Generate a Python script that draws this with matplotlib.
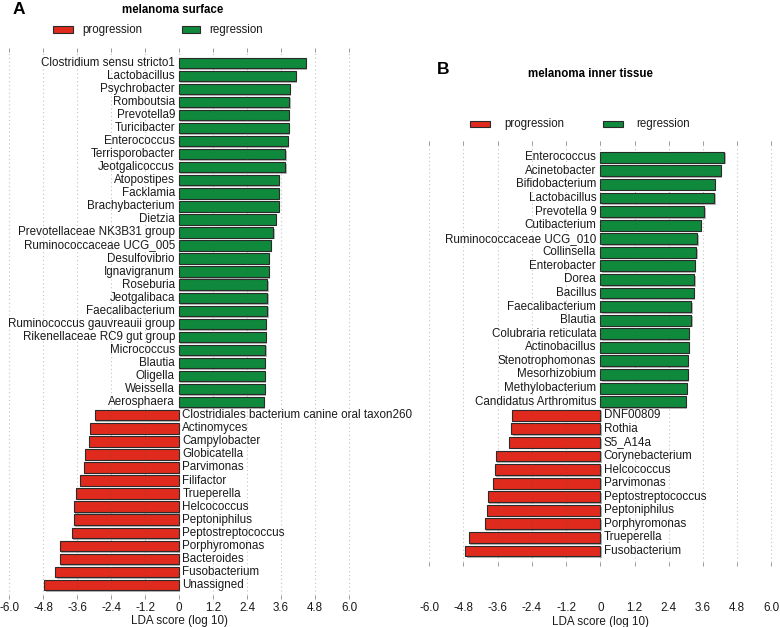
import matplotlib
matplotlib.use("Agg")
import matplotlib.pyplot as plt
import matplotlib.patheffects as pe
from matplotlib.patches import Rectangle
from matplotlib.transforms import ScaledTranslation

plt.rcParams['font.family'] = ['Liberation Sans', 'DejaVu Sans']

# ---------------- data ----------------
a_regression = ["Clostridium sensu stricto1", "Lactobacillus", "Psychrobacter", "Romboutsia",
                "Prevotella9", "Turicibacter", "Enterococcus", "Terrisporobacter", "Jeotgalicoccus",
                "Atopostipes", "Facklamia", "Brachybacterium", "Dietzia", "Prevotellaceae NK3B31 group",
                "Ruminococcaceae UCG_005", "Desulfovibrio", "Ignavigranum", "Roseburia", "Jeotgalibaca",
                "Faecalibacterium", "Ruminococcus gauvreauii group", "Rikenellaceae RC9 gut group",
                "Micrococcus", "Blautia", "Oligella", "Weissella", "Aerosphaera"]
a_regression_lda = [4.47, 4.11, 3.90, 3.89, 3.88, 3.87, 3.83, 3.75, 3.75, 3.51, 3.51, 3.51, 3.42,
                    3.32, 3.24, 3.16, 3.16, 3.12, 3.11, 3.11, 3.07, 3.06, 3.04, 3.03, 3.03, 3.03, 2.99]
a_progression = ["Clostridiales bacterium canine oral taxon260", "Actinomyces", "Campylobacter",
                 "Globicatella", "Parvimonas", "Filifactor", "Trueperella", "Helcococcus",
                 "Peptoniphilus", "Peptostreptococcus", "Porphyromonas", "Bacteroides",
                 "Fusobacterium", "Unassigned"]
a_progression_lda = [-2.98, -3.16, -3.17, -3.31, -3.37, -3.49, -3.64, -3.71, -3.72, -3.79,
                     -4.20, -4.20, -4.37, -4.76]

b_regression = ["Enterococcus", "Acinetobacter", "Bifidobacterium", "Lactobacillus", "Prevotella 9",
                "Cutibacterium", "Ruminococcaceae UCG_010", "Collinsella", "Enterobacter", "Dorea",
                "Bacillus", "Faecalibacterium", "Blautia", "Colubraria reticulata", "Actinobacillus",
                "Stenotrophomonas", "Mesorhizobium", "Methylobacterium", "Candidatus Arthromitus"]
b_regression_lda = [4.35, 4.23, 4.01, 4.00, 3.65, 3.53, 3.40, 3.37, 3.32, 3.30, 3.29, 3.19, 3.19,
                    3.11, 3.11, 3.07, 3.07, 3.04, 3.00]
b_progression = ["DNF00809", "Rothia", "S5_A14a", "Corynebacterium", "Helcococcus", "Parvimonas",
                 "Peptostreptococcus", "Peptoniphilus", "Porphyromonas", "Trueperella", "Fusobacterium"]
b_progression_lda = [-3.10, -3.12, -3.21, -3.67, -3.70, -3.77, -3.94, -3.98, -4.05, -4.61, -4.73]

xticks = [-6.0, -4.8, -3.6, -2.4, -1.2, 0, 1.2, 2.4, 3.6, 4.8, 6.0]
xticklabels = ["-6.0", "-4.8", "-3.6", "-2.4", "-1.2", "0", "1.2", "2.4", "3.6", "4.8", "6.0"]
legend_labels = ["progression", "regression"]

RED = "#e02a1e"
GREEN = "#0f8a3c"
EDGE = "#2a2a2a"
FS = 8.4
TXT = "#1a1a1a"

W, H = 780, 627
fig = plt.figure(figsize=(W / 100, H / 100), dpi=100)


def px_axes(left, top, width, height):
    return fig.add_axes([left / W, 1 - (top + height) / H, width / W, height / H])


def draw_panel(ax, reg_names, reg_vals, prog_names, prog_vals, ylim, extra_pad):
    names = reg_names + prog_names
    vals = reg_vals + prog_vals
    ys = list(range(len(names)))
    colors = [GREEN] * len(reg_vals) + [RED] * len(prog_vals)
    bars = ax.barh(ys, vals, height=0.8, color=colors, edgecolor=EDGE, linewidth=0.8, zorder=2)
    for b in bars:
        b.set_path_effects([pe.SimplePatchShadow(offset=(1.0, -1.2), shadow_rgbFace="#888888", alpha=0.6),
                            pe.Normal()])
    left_off = ax.transData + ScaledTranslation(-3.0 / 72, 0, fig.dpi_scale_trans)
    right_off = ax.transData + ScaledTranslation(2.4 / 72, 0, fig.dpi_scale_trans)
    for y, n, v in zip(ys, names, vals):
        if v >= 0:
            ax.text(0, y, n, ha="right", va="center", fontsize=FS, transform=left_off, color=TXT)
        else:
            ax.text(0, y, n, ha="left", va="center", fontsize=FS, transform=right_off, color=TXT)
    ax.set_xlim(-6.15, 6.15)
    ax.set_ylim(*ylim)
    for s in ax.spines.values():
        s.set_visible(False)
    ax.set_yticks([])
    ax.set_xticks(xticks)
    ax.set_xticklabels(xticklabels, fontsize=FS)
    ax.tick_params(axis="x", top=True, bottom=True, length=3, width=0.7, color="#9a9a9a",
                   pad=1.5 + extra_pad, labelcolor=TXT)
    for t in xticks:
        ax.axvline(t, color="#555555", alpha=0.35, linestyle=(0, (1, 2.5)), linewidth=0.8, zorder=3)
    ax.set_xlabel("LDA score (log 10)", fontsize=FS, labelpad=1, color=TXT)


# Panel A
axA = px_axes(4.8, 52.3, 348.5, 543.1)
draw_panel(axA, a_regression, a_regression_lda, a_progression, a_progression_lda, (40.8, -0.8), 0)

# Panel B
axB = px_axes(425.0, 145.0, 350.6, 416.9)
draw_panel(axB, b_regression, b_regression_lda, b_progression, b_progression_lda, (29.8, -0.9), 24.6)


def ftext(x, y, s, **kw):
    fig.text(x / W, 1 - y / H, s, **kw)


def fpatch(x0, x1, ymid, color):
    h = 6.5
    fig.patches.append(Rectangle((x0 / W, 1 - (ymid + h / 2) / H), (x1 - x0) / W, h / H,
                                 transform=fig.transFigure, facecolor=color, edgecolor=EDGE,
                                 linewidth=0.8, figure=fig))


# titles
ftext(13, 9, "A", fontsize=12.5, fontweight="bold", va="center", ha="left")
ftext(173, 10, "melanoma surface", fontsize=8.3, fontweight="bold", va="center", ha="center")
ftext(437, 70, "B", fontsize=12.5, fontweight="bold", va="center", ha="left")
ftext(590, 74, "melanoma inner tissue", fontsize=8.3, fontweight="bold", va="center", ha="center")

# legends
fpatch(53, 73, 29.5, RED)
ftext(82, 29.5, legend_labels[0], fontsize=8.3, va="center", ha="left", color=TXT)
fpatch(182, 200, 29.5, GREEN)
ftext(209, 29.5, legend_labels[1], fontsize=8.3, va="center", ha="left", color=TXT)

fpatch(470, 490, 124, RED)
ftext(504, 124, legend_labels[0], fontsize=8.3, va="center", ha="left", color=TXT)
fpatch(603, 623, 124, GREEN)
ftext(636, 124, legend_labels[1], fontsize=8.3, va="center", ha="left", color=TXT)

fig.savefig("out.png", dpi=100)
